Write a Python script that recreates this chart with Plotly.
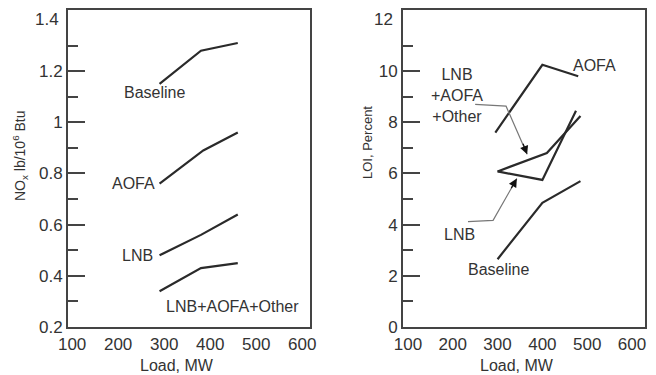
import plotly.graph_objects as go

FONT = "Liberation Sans, Arial, sans-serif"
TXT = "#333333"
LINE = "#2a2a2a"
AX = "#444444"

# ---------------- data ----------------
load_ticks = [100, 200, 300, 400, 500, 600]
nox_major = [0.2, 0.4, 0.6, 0.8, 1.0, 1.2]
nox_minor = [0.3, 0.5, 0.7, 0.9, 1.1, 1.3]
loi_major = [0, 2, 4, 6, 8, 10]
loi_minor = [1, 3, 5, 7, 9, 11]

# Left panel: NOx, lb/10^6 Btu
nox_base_load = [290, 380, 460]
nox_base = [1.15, 1.28, 1.31]
nox_aofa_load = [290, 385, 460]
nox_aofa = [0.76, 0.89, 0.96]
nox_lnb_load = [290, 380, 460]
nox_lnb = [0.48, 0.56, 0.64]
nox_combo_load = [290, 380, 460]
nox_combo = [0.34, 0.43, 0.45]

# Right panel: LOI, percent
loi_aofa_load = [295, 400, 480]
loi_aofa = [7.6, 10.25, 9.8]
loi_combo_load = [300, 410, 485]
loi_combo = [6.08, 6.8, 8.25]
loi_lnb_load = [300, 400, 475]
loi_lnb = [6.08, 5.75, 8.45]
loi_base_load = [300, 400, 485]
loi_base = [2.65, 4.85, 5.7]

# leader lines (callouts) on right panel
lead_combo_x = [250, 319, 366]
lead_combo_y = [8.7, 8.63, 6.75]
lead_lnb_x = [234, 290, 343]
lead_lnb_y = [4.12, 4.17, 5.8]

fig = go.Figure()

def line(x, y, xa, ya, color=LINE, width=2.2):
    fig.add_trace(go.Scatter(x=x, y=y, mode="lines", xaxis=xa, yaxis=ya,
                             line=dict(color=color, width=width),
                             showlegend=False, hoverinfo="skip"))

line(nox_base_load, nox_base, "x", "y")
line(nox_aofa_load, nox_aofa, "x", "y")
line(nox_lnb_load, nox_lnb, "x", "y")
line(nox_combo_load, nox_combo, "x", "y")

line(loi_aofa_load, loi_aofa, "x2", "y2")
line(loi_combo_load, loi_combo, "x2", "y2")
line(loi_lnb_load, loi_lnb, "x2", "y2")
line(loi_base_load, loi_base, "x2", "y2")

line(lead_combo_x, lead_combo_y, "x2", "y2", color="#777777", width=1.2)
line(lead_lnb_x, lead_lnb_y, "x2", "y2", color="#777777", width=1.2)

# page has an 8px body margin; figure sized to fill the rest of the window
OFF = 8
W, H = 656 - OFF, 375 - OFF
def px(x):
    return (x - OFF) / W
def py(y):
    return 1 - (y - OFF) / H

axis_common = dict(showgrid=False, zeroline=False, showline=True, linecolor=AX,
                   linewidth=2, mirror=True, automargin=False,
                   tickfont=dict(family=FONT, size=17, color=TXT))

xax = dict(axis_common, tickvals=load_ticks, ticks="", ticklabelstandoff=1)
fig.update_layout(
    width=W, height=H,
    margin=dict(l=0, r=0, t=0, b=0, autoexpand=False),
    paper_bgcolor="white", plot_bgcolor="white",
    font=dict(family=FONT, color=TXT),
    xaxis=dict(xax, domain=[px(68), px(310)], range=[91, 617], anchor="y"),
    xaxis2=dict(xax, domain=[px(403), px(645)], range=[89, 629], anchor="y2"),
    yaxis=dict(axis_common, domain=[py(327), py(10)], range=[0.2, 1.439],
               tickvals=nox_major, ticktext=["0.2", "0.4", "0.6", "0.8", "1", "1.2"],
               ticks="inside", ticklen=17, tickwidth=2, tickcolor=AX,
               minor=dict(tickvals=nox_minor, ticks="inside", ticklen=10,
                          tickwidth=2, tickcolor=AX),
               anchor="x"),
    yaxis2=dict(axis_common, domain=[py(327), py(10)], range=[0, 12.39],
                tickvals=loi_major,
                ticks="inside", ticklen=17, tickwidth=2, tickcolor=AX,
                minor=dict(tickvals=loi_minor, ticks="inside", ticklen=10,
                           tickwidth=2, tickcolor=AX),
                anchor="x2"),
)

af = dict(family=FONT, size=16, color=TXT)
tf = dict(family=FONT, size=17, color=TXT)
ann = []
# top tick labels without tick marks
ann.append(dict(text="1.4", xref="paper", x=px(61), yref="y", y=1.4,
                xanchor="right", yanchor="middle", showarrow=False,
                font=tf))
ann.append(dict(text="12", xref="paper", x=px(395), yref="y2", y=12,
                xanchor="right", yanchor="middle", showarrow=False,
                font=tf))
# series labels, left
for t, x, y in [("Baseline", 280, 1.115), ("AOFA", 233, 0.76),
                ("LNB", 241, 0.48), ("LNB+AOFA+Other", 448, 0.28)]:
    ann.append(dict(text=t, xref="x", yref="y", x=x, y=y, showarrow=False,
                    xanchor="center", yanchor="middle", font=af))
# series labels, right
for t, x, y in [("AOFA", 517, 10.23), ("LNB<br>+AOFA<br>+Other", 209, 9.06),
                ("LNB", 216, 3.63), ("Baseline", 301, 2.26)]:
    ann.append(dict(text=t, xref="x2", yref="y2", x=x, y=y, showarrow=False,
                    xanchor="center", yanchor="middle", font=af))
# arrowheads
ann.append(dict(text=" ", xref="x2", yref="y2", x=lead_combo_x[-1], y=lead_combo_y[-1],
                ax=-5, ay=-13, showarrow=True, arrowhead=2, arrowsize=1.4,
                arrowwidth=1.2, arrowcolor="#111111", standoff=0,
                font=dict(size=2)))
ann.append(dict(text=" ", xref="x2", yref="y2", x=lead_lnb_x[-1], y=lead_lnb_y[-1],
                ax=-7, ay=12, showarrow=True, arrowhead=2, arrowsize=1.4,
                arrowwidth=1.2, arrowcolor="#111111", standoff=0,
                font=dict(size=2)))
# axis titles
ann.append(dict(text="Load, MW", xref="paper", yref="paper", x=px(177), y=py(365),
                showarrow=False, xanchor="center", yanchor="middle", font=af))
ann.append(dict(text="Load, MW", xref="paper", yref="paper", x=px(517), y=py(365),
                showarrow=False, xanchor="center", yanchor="middle", font=af))
ann.append(dict(text="NO<sub>x</sub> lb/10<sup>6</sup> Btu", xref="paper", yref="paper",
                x=px(20), y=py(156), textangle=-90, showarrow=False,
                xanchor="center", yanchor="middle",
                font=dict(family=FONT, size=14, color=TXT)))
ann.append(dict(text="LOI, Percent", xref="paper", yref="paper",
                x=px(367), y=py(143), textangle=-90, showarrow=False,
                xanchor="center", yanchor="middle",
                font=dict(family=FONT, size=13, color=TXT)))
fig.update_layout(annotations=ann)

fig.write_html("out.html")
